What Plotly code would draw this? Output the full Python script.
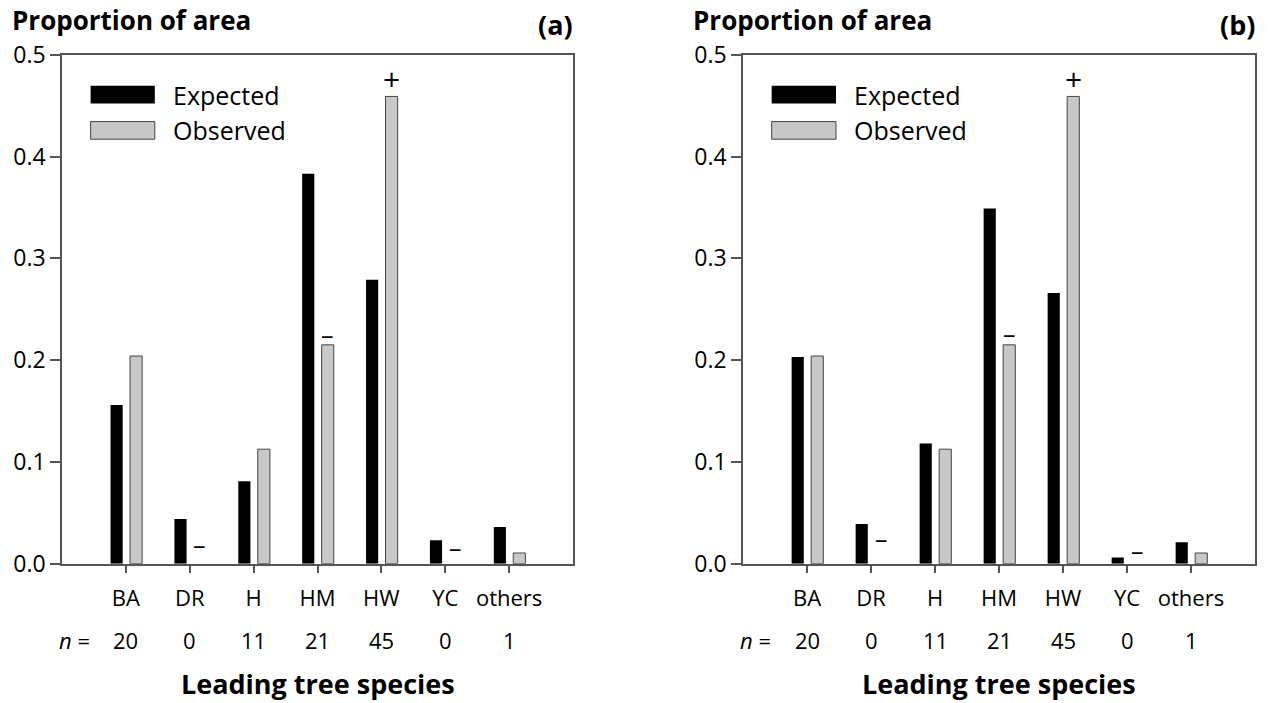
import plotly.graph_objects as go

# ---------------- data ----------------
categories = ["BA", "DR", "H", "HM", "HW", "YC", "others"]
n_counts = ["20", "0", "11", "21", "45", "0", "1"]

expected_a = [0.156, 0.044, 0.081, 0.383, 0.279, 0.023, 0.036]
observed_a = [0.204, 0.0, 0.1125, 0.215, 0.459, 0.0, 0.0105]

expected_b = [0.203, 0.039, 0.118, 0.349, 0.266, 0.006, 0.021]
observed_b = [0.204, 0.0, 0.1125, 0.215, 0.459, 0.0, 0.0105]

sign_cats = ["DR", "HM", "HW", "YC"]
sign_symbols = ["–", "–", "+", "–"]
sign_y_a = [0.019, 0.226, 0.477, 0.0166]
sign_y_b = [0.0257, 0.2267, 0.477, 0.0135]

y_ticks = [0.0, 0.1, 0.2, 0.3, 0.4, 0.5]
y_ticktext = ["0.0", "0.1", "0.2", "0.3", "0.4", "0.5"]

panel_labels = ["(a)", "(b)"]

# ---------------- style ----------------
W, H = 1268, 703
FONT = "Open Sans"
AX = "#555555"
GRAY = "#c8c8c8"
BAR_W = 0.19
OFF_E = -0.24
OFF_O = 0.065

def px_x(p):
    return p / W

def px_y(p):
    return 1 - p / H

y_dom = [px_y(563.7), px_y(54.7)]
x_doms = [[px_x(62), px_x(573)], [px_x(743), px_x(1255)]]

fig = go.Figure()

panels = [(expected_a, observed_a, sign_y_a), (expected_b, observed_b, sign_y_b)]
annotations = []
shapes = []

for k, (exp_v, obs_v, sy) in enumerate(panels):
    xa = "x" if k == 0 else "x2"
    ya = "y" if k == 0 else "y2"
    fig.add_trace(go.Bar(
        x=categories, y=exp_v, name="Expected", xaxis=xa, yaxis=ya,
        width=BAR_W, offset=OFF_E,
        marker=dict(color="black", line=dict(width=0)), showlegend=False))
    fig.add_trace(go.Bar(
        x=categories, y=obs_v, name="Observed", xaxis=xa, yaxis=ya,
        width=BAR_W, offset=OFF_O,
        marker=dict(color=GRAY,
                    line=dict(color="#444444",
                              width=[1 if v > 0 else 0 for v in obs_v])),
        showlegend=False))

    # significance signs above observed bars
    for c, s, yv in zip(sign_cats, sign_symbols, sy):
        annotations.append(dict(
            x=categories.index(c) + OFF_O + BAR_W / 2, y=yv, xref=xa, yref=ya,
            text=s, showarrow=False, xanchor="center", yanchor="middle",
            font=dict(family=FONT, size=30 if s == "+" else 25, color="black")))

    # legend (drawn in the panel)
    shapes.append(dict(type="rect", xref=xa, yref=ya, x0=-0.552, x1=0.453,
                       y0=0.452, y1=0.4695, fillcolor="black", line=dict(width=0)))
    shapes.append(dict(type="rect", xref=xa, yref=ya, x0=-0.552, x1=0.453,
                       y0=0.417, y1=0.4343, fillcolor=GRAY,
                       line=dict(color="#444444", width=1)))
    annotations.append(dict(x=0.70, y=0.4607, xref=xa, yref=ya, text="Expected",
                            showarrow=False, xanchor="left", yanchor="middle",
                            font=dict(family=FONT, size=25, color="black")))
    annotations.append(dict(x=0.70, y=0.4257, xref=xa, yref=ya, text="Observed",
                            showarrow=False, xanchor="left", yanchor="middle",
                            font=dict(family=FONT, size=25, color="black")))

    # n row
    for i, nv in enumerate(n_counts):
        annotations.append(dict(x=i, y=px_y(640), xref=xa, yref="paper", text=nv,
                                showarrow=False, xanchor="center", yanchor="middle",
                                font=dict(family=FONT, size=22, color="black")))
    annotations.append(dict(x=-0.53, y=px_y(640), xref=xa, yref="paper",
                            text="<i>n</i> =", showarrow=False, xanchor="right",
                            yanchor="middle",
                            font=dict(family=FONT, size=22, color="black")))

    # axis title
    x0, x1 = x_doms[k]
    annotations.append(dict(x=(x0 + x1) / 2, y=px_y(683), xref="paper", yref="paper",
                            text="<b>Leading tree species</b>", showarrow=False,
                            xanchor="center", yanchor="middle",
                            font=dict(family=FONT, size=27, color="black")))
    # y title at top
    annotations.append(dict(x=x0 - px_x(52),
                            y=px_y(20), xref="paper", yref="paper",
                            text="<b>Proportion of area</b>", showarrow=False,
                            xanchor="left", yanchor="middle",
                            font=dict(family=FONT, size=26, color="black")))
    annotations.append(dict(x=x1 + px_x(2), y=px_y(24), xref="paper", yref="paper",
                            text="<b>" + panel_labels[k] + "</b>", showarrow=False,
                            xanchor="right", yanchor="middle",
                            font=dict(family=FONT, size=27, color="black")))

xaxis_common = dict(
    type="category", categoryorder="array", categoryarray=categories,
    range=[-1, 7], showline=True, linecolor=AX, linewidth=1.5, mirror=True,
    ticks="outside", ticklen=8, tickwidth=1.5, tickcolor=AX,
    showgrid=False, zeroline=False, ticklabelstandoff=6, automargin=False,
    tickfont=dict(family=FONT, size=22, color="black"))
yaxis_common = dict(
    range=[0, 0.5], tickvals=y_ticks, ticktext=y_ticktext,
    showline=True, linecolor=AX, linewidth=1.5, mirror=True,
    ticks="outside", ticklen=10, tickwidth=1.5, tickcolor=AX,
    showgrid=False, zeroline=False, automargin=False,
    tickfont=dict(family=FONT, size=23, color="black"))

fig.update_layout(
    width=W, height=H, margin=dict(l=0, r=0, t=0, b=0, autoexpand=False),
    paper_bgcolor="white", plot_bgcolor="white",
    barmode="overlay", showlegend=False,
    xaxis=dict(domain=x_doms[0], anchor="y", **xaxis_common),
    yaxis=dict(domain=y_dom, anchor="x", **yaxis_common),
    xaxis2=dict(domain=x_doms[1], anchor="y2", **xaxis_common),
    yaxis2=dict(domain=y_dom, anchor="x2", **yaxis_common),
    annotations=annotations, shapes=shapes,
)

fig.write_html("out.html")
